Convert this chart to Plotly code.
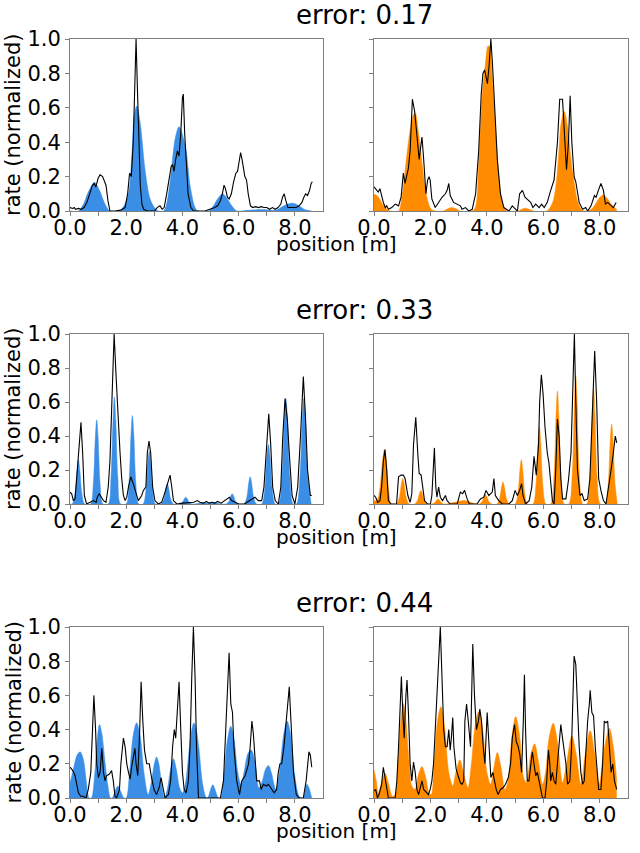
import plotly.graph_objects as go

W, H = 640, 853
FONT = "DejaVu Sans"
BLUE = "#3a8ee6"
ORANGE = "#ff8c00"
FRAME = "#808080"

titles = ["error: 0.17", "error: 0.33", "error: 0.44"]
x_tick_vals = [0, 1, 2, 3, 4, 5, 6, 7, 8]
x_tick_text = ["0.0", "", "2.0", "", "4.0", "", "6.0", "", "8.0"]
y_tick_vals = [0, 0.2, 0.4, 0.6, 0.8, 1.0]
y_tick_text = ["0.0", "0.2", "0.4", "0.6", "0.8", "1.0"]
x_label = "position [m]"
y_label = "rate (normalized)"

# ---------------- row 1, left (blue) ----------------
a_fill_x = [0.0, 0.3, 0.48, 0.65, 0.87, 1.05, 1.22, 1.42, 1.75, 1.9, 2.08, 2.2, 2.28, 2.37, 2.49, 2.67, 2.85, 3.03, 3.15,
            3.33, 3.42, 3.56, 3.74, 3.88, 4.1, 4.28, 4.45, 4.55, 4.93, 5.1, 5.27, 5.43, 5.6, 5.78, 5.94,
            6.3, 6.8, 7.2, 7.35, 7.5, 7.7, 7.94, 8.15, 8.35, 8.6]
a_fill_y = [0.0, 0.0, 0.04, 0.11, 0.167, 0.12, 0.05, 0.0, 0.0, 0.025, 0.1, 0.32, 0.55, 0.61, 0.52, 0.24, 0.07, 0.015, 0.0,
            0.0, 0.03, 0.17, 0.42, 0.49, 0.38, 0.14, 0.02, 0.0, 0.0, 0.03, 0.075, 0.1, 0.07, 0.025, 0.0,
            0.004, 0.008, 0.004, 0.006, 0.02, 0.038, 0.045, 0.03, 0.008, 0.0]
a_line = [(0, 0.02), (0.1, 0.015), (0.15, 0.02), (0.2, 0.01), (0.3, 0.015), (0.4, 0.01), (0.5, 0.02), (0.6, 0.05),
          (0.7, 0.1), (0.8, 0.15), (0.86, 0.16), (0.92, 0.14), (1.0, 0.19), (1.07, 0.21), (1.16, 0.2), (1.22, 0.17),
          (1.28, 0.15), (1.35, 0.06), (1.42, 0.0), (1.6, 0.0), (1.8, 0.005), (1.96, 0.02), (2.05, 0.1), (2.12, 0.22),
          (2.18, 0.2), (2.25, 0.4), (2.3, 0.75), (2.35, 1.0), (2.4, 0.7), (2.45, 0.35), (2.5, 0.15), (2.56, 0.04),
          (2.62, 0.01), (2.75, 0.0), (3.0, 0.0), (3.1, 0.02), (3.2, 0.03), (3.28, 0.01), (3.35, 0.02), (3.44, 0.1),
          (3.52, 0.18), (3.6, 0.26), (3.65, 0.27), (3.7, 0.23), (3.76, 0.3), (3.82, 0.35), (3.88, 0.32), (3.94, 0.45),
          (4.0, 0.66), (4.03, 0.68), (4.08, 0.45), (4.14, 0.25), (4.2, 0.1), (4.3, 0.02), (4.4, 0.0), (4.8, 0.0),
          (5.0, 0.01), (5.15, 0.02), (5.25, 0.03), (5.35, 0.06), (5.42, 0.1), (5.48, 0.15), (5.53, 0.13), (5.6, 0.08),
          (5.66, 0.07), (5.74, 0.1), (5.82, 0.17), (5.9, 0.22), (5.96, 0.23), (6.02, 0.28), (6.07, 0.34), (6.12, 0.3),
          (6.17, 0.24), (6.22, 0.2), (6.28, 0.18), (6.34, 0.1), (6.42, 0.03), (6.5, 0.02), (6.6, 0.025), (6.7, 0.02),
          (6.8, 0.025), (6.9, 0.02), (7.0, 0.02), (7.1, 0.01), (7.2, 0.02), (7.3, 0.01), (7.4, 0.02), (7.5, 0.04),
          (7.56, 0.08), (7.62, 0.1), (7.68, 0.06), (7.75, 0.02), (7.85, 0.02), (7.95, 0.02), (8.05, 0.02), (8.15, 0.03),
          (8.25, 0.05), (8.32, 0.08), (8.38, 0.1), (8.45, 0.09), (8.52, 0.12), (8.58, 0.16), (8.62, 0.17)]

# ---------------- row 1, right (orange) ----------------
b_fill_x = [0.0, 0.1, 0.2, 0.3, 0.45, 0.57, 0.87, 0.93, 1.04, 1.16, 1.28, 1.4, 1.46, 1.58, 1.7, 1.81, 1.93, 2.05,
            2.45, 2.6, 2.76, 2.92, 3.05, 3.48, 3.6, 3.71, 3.83, 3.95, 4.04, 4.1, 4.19, 4.31, 4.42, 4.54, 4.66, 4.75,
            5.1, 5.25, 5.37, 5.5, 5.65, 6.12, 6.32, 6.44, 6.54, 6.63, 6.74, 6.86, 6.98, 7.1, 7.21, 7.33, 7.45,
            7.7, 7.85, 7.98, 8.13, 8.28, 8.42, 8.6]
b_fill_y = [0.097, 0.09, 0.07, 0.04, 0.01, 0.0, 0.0, 0.025, 0.14, 0.32, 0.47, 0.56, 0.57, 0.45, 0.28, 0.14, 0.045, 0.006,
            0.0, 0.012, 0.02, 0.012, 0.0, 0.0, 0.025, 0.28, 0.66, 0.86, 0.96, 0.95, 0.78, 0.47, 0.2, 0.06, 0.006, 0.0,
            0.0, 0.012, 0.016, 0.01, 0.0, 0.0, 0.045, 0.14, 0.32, 0.51, 0.58, 0.49, 0.3, 0.16, 0.06, 0.015, 0.0,
            0.01, 0.04, 0.075, 0.093, 0.07, 0.035, 0.01]
b_line = [(0, 0.14), (0.05, 0.13), (0.1, 0.12), (0.15, 0.11), (0.21, 0.13), (0.27, 0.08), (0.33, 0.05), (0.4, 0.02),
          (0.45, 0.03), (0.51, 0.01), (0.63, 0.02), (0.75, 0.04), (0.87, 0.03), (0.96, 0.08), (1.04, 0.22), (1.1, 0.16),
          (1.16, 0.2), (1.22, 0.25), (1.28, 0.35), (1.36, 0.65), (1.44, 0.58), (1.52, 0.45), (1.6, 0.3), (1.66, 0.38),
          (1.7, 0.43), (1.76, 0.3), (1.84, 0.1), (1.9, 0.18), (1.95, 0.2), (1.99, 0.18), (2.05, 0.07), (2.17, 0.02),
          (2.29, 0.05), (2.41, 0.08), (2.53, 0.1), (2.59, 0.12), (2.65, 0.16), (2.7, 0.09), (2.82, 0.05), (2.94, 0.04),
          (3.06, 0.03), (3.12, 0.01), (3.24, 0.02), (3.36, 0.0), (3.48, 0.01), (3.6, 0.1), (3.71, 0.35), (3.8, 0.68),
          (3.86, 0.8), (3.92, 0.82), (3.98, 0.76), (4.02, 0.74), (4.08, 0.85), (4.14, 1.0), (4.2, 0.85), (4.25, 0.7),
          (4.31, 0.5), (4.37, 0.3), (4.48, 0.1), (4.6, 0.02), (4.78, 0.0), (4.9, 0.03), (5.02, 0.01), (5.08, 0.0),
          (5.16, 0.1), (5.26, 0.12), (5.35, 0.08), (5.43, 0.07), (5.55, 0.05), (5.63, 0.02), (5.73, 0.04), (5.85, 0.02),
          (5.94, 0.04), (6.03, 0.02), (6.14, 0.05), (6.26, 0.12), (6.38, 0.18), (6.5, 0.4), (6.58, 0.65), (6.68, 0.65),
          (6.74, 0.5), (6.82, 0.24), (6.89, 0.4), (6.95, 0.67), (7.01, 0.4), (7.09, 0.2), (7.15, 0.17), (7.27, 0.05),
          (7.39, 0.01), (7.5, 0.02), (7.57, 0.0), (7.69, 0.03), (7.81, 0.09), (7.87, 0.08), (7.95, 0.12), (8.04, 0.16),
          (8.13, 0.12), (8.2, 0.04), (8.28, 0.05), (8.4, 0.03), (8.48, 0.02), (8.58, 0.05)]

# ---------------- row 2, left (blue) ----------------
c_fill_x = [0.0, 0.08, 0.18, 0.25, 0.3, 0.35, 0.42, 0.52,
            0.73, 0.83, 0.9, 0.95, 1.0, 1.07, 1.17,
            1.36, 1.46, 1.53, 1.58, 1.63, 1.7, 1.8,
            2.0, 2.1, 2.17, 2.22, 2.27, 2.34, 2.44,
            2.6, 2.7, 2.77, 2.82, 2.87, 2.94, 3.04,
            3.24, 3.34, 3.41, 3.46, 3.51, 3.58, 3.68,
            3.9, 4.0, 4.07, 4.12, 4.17, 4.24, 4.34,
            4.6, 4.75, 4.9, 5.1, 5.25, 5.4,
            5.55, 5.65, 5.72, 5.77, 5.82, 5.89, 5.99,
            6.19, 6.29, 6.36, 6.41, 6.46, 6.53, 6.63,
            6.82, 6.93, 7.0, 7.06, 7.12, 7.19, 7.3,
            7.42, 7.54, 7.62, 7.68, 7.74, 7.82, 7.94,
            8.06, 8.18, 8.26, 8.32, 8.38, 8.46, 8.58]
c_fill_y = [0.0, 0.0, 0.065, 0.2, 0.26, 0.2, 0.065, 0.0,
            0.0, 0.12, 0.39, 0.495, 0.39, 0.12, 0.0,
            0.0, 0.16, 0.49, 0.63, 0.49, 0.16, 0.0,
            0.0, 0.13, 0.41, 0.52, 0.41, 0.13, 0.0,
            0.0, 0.08, 0.24, 0.31, 0.24, 0.08, 0.0,
            0.0, 0.03, 0.094, 0.12, 0.094, 0.03, 0.0,
            0.0, 0.01, 0.031, 0.04, 0.031, 0.01, 0.0,
            0.004, 0.008, 0.004, 0.01, 0.004, 0.0,
            0.0, 0.015, 0.047, 0.06, 0.047, 0.015, 0.0,
            0.0, 0.04, 0.125, 0.16, 0.125, 0.04, 0.0,
            0.0, 0.09, 0.27, 0.35, 0.27, 0.09, 0.0,
            0.0, 0.16, 0.48, 0.62, 0.48, 0.16, 0.0,
            0.0, 0.16, 0.48, 0.62, 0.48, 0.16, 0.0]
c_line = [(0, 0.07), (0.06, 0.06), (0.12, 0.02), (0.18, 0.03), (0.26, 0.2), (0.33, 0.38), (0.39, 0.48), (0.45, 0.3),
          (0.51, 0.05), (0.59, 0.0), (0.71, 0.01), (0.83, 0.02), (0.93, 0.01), (0.97, 0.04), (1.04, 0.06), (1.13, 0.04),
          (1.19, 0.02), (1.28, 0.01), (1.36, 0.1), (1.42, 0.25), (1.48, 0.6), (1.57, 1.0), (1.64, 0.75), (1.72, 0.45),
          (1.78, 0.3), (1.84, 0.15), (1.9, 0.05), (1.96, 0.02), (2.02, 0.04), (2.08, 0.1), (2.16, 0.16), (2.25, 0.12),
          (2.35, 0.06), (2.43, 0.02), (2.55, 0.05), (2.61, 0.08), (2.7, 0.1), (2.75, 0.3), (2.81, 0.37), (2.87, 0.3),
          (2.94, 0.1), (3.02, 0.02), (3.14, 0.0), (3.26, 0.01), (3.38, 0.07), (3.5, 0.13), (3.56, 0.17), (3.62, 0.1),
          (3.68, 0.02), (3.8, 0.0), (4.0, 0.005), (4.4, 0.01), (4.53, 0.02), (4.62, 0.01), (4.75, 0.005), (4.85, 0.015),
          (4.95, 0.005), (5.05, 0.01), (5.15, 0.005), (5.25, 0.015), (5.38, 0.005), (5.5, 0.02), (5.58, 0.03),
          (5.67, 0.04), (5.75, 0.02), (5.87, 0.01), (6.0, 0.0), (6.2, 0.0), (6.41, 0.02), (6.58, 0.04), (6.7, 0.02),
          (6.82, 0.02), (6.9, 0.1), (6.99, 0.3), (7.07, 0.53), (7.14, 0.35), (7.21, 0.1), (7.3, 0.02), (7.41, 0.0),
          (7.5, 0.1), (7.57, 0.4), (7.65, 0.62), (7.73, 0.5), (7.8, 0.3), (7.9, 0.05), (8.0, 0.0), (8.1, 0.1),
          (8.2, 0.4), (8.3, 0.75), (8.38, 0.5), (8.45, 0.2), (8.55, 0.05), (8.6, 0.05)]

# ---------------- row 2, right (orange) ----------------
d_fill_x = [0.0, 0.1, 0.2, 0.3, 0.37, 0.44, 0.52, 0.62,
            0.8, 0.9, 0.97, 1.02, 1.07, 1.14, 1.24,
            1.44, 1.54, 1.61, 1.66, 1.71, 1.78, 1.88,
            2.05, 2.15, 2.22, 2.27, 2.32, 2.39, 2.49,
            2.7, 3.0, 3.2, 3.4, 3.6,
            3.73, 3.83, 3.9, 3.95, 4.0, 4.07, 4.17,
            4.35, 4.45, 4.52, 4.57, 4.62, 4.69, 4.79,
            5.0, 5.1, 5.17, 5.22, 5.27, 5.34, 5.44,
            5.63, 5.74, 5.81, 5.86, 5.91, 5.98, 6.09,
            6.26, 6.38, 6.45, 6.5, 6.55, 6.62, 6.74,
            6.9, 7.03, 7.1, 7.15, 7.2, 7.27, 7.4,
            7.54, 7.66, 7.73, 7.78, 7.83, 7.9, 8.02,
            8.2, 8.3, 8.37, 8.42, 8.47, 8.54, 8.62]
d_fill_y = [0.02, 0.02, 0.08, 0.25, 0.32, 0.25, 0.08, 0.0,
            0.0, 0.04, 0.117, 0.15, 0.117, 0.04, 0.0,
            0.0, 0.02, 0.062, 0.08, 0.062, 0.02, 0.0,
            0.0, 0.008, 0.023, 0.03, 0.023, 0.008, 0.0,
            0.005, 0.015, 0.02, 0.012, 0.0,
            0.0, 0.014, 0.043, 0.055, 0.043, 0.014, 0.0,
            0.0, 0.033, 0.1, 0.13, 0.1, 0.033, 0.0,
            0.0, 0.065, 0.2, 0.26, 0.2, 0.065, 0.0,
            0.0, 0.115, 0.355, 0.456, 0.355, 0.115, 0.0,
            0.0, 0.17, 0.52, 0.665, 0.52, 0.17, 0.0,
            0.0, 0.19, 0.59, 0.755, 0.59, 0.19, 0.0,
            0.0, 0.17, 0.53, 0.677, 0.53, 0.17, 0.0,
            0.0, 0.12, 0.37, 0.47, 0.37, 0.12, 0.0]
d_line = [(0, 0.05), (0.06, 0.04), (0.13, 0.01), (0.21, 0.02), (0.27, 0.1), (0.33, 0.25), (0.39, 0.32), (0.45, 0.2),
          (0.51, 0.02), (0.6, 0.0), (0.8, 0.0), (0.87, 0.16), (0.96, 0.17), (1.04, 0.17), (1.1, 0.15), (1.2, 0.05),
          (1.28, 0.01), (1.34, 0.06), (1.4, 0.35), (1.48, 0.51), (1.55, 0.3), (1.6, 0.18), (1.67, 0.17), (1.72, 0.1),
          (1.79, 0.02), (1.9, 0.0), (2.0, 0.0), (2.05, 0.05), (2.14, 0.33), (2.19, 0.1), (2.23, 0.04), (2.29, 0.1),
          (2.35, 0.04), (2.43, 0.02), (2.53, 0.05), (2.59, 0.02), (2.7, 0.0), (2.95, 0.0), (3.06, 0.07), (3.14, 0.06),
          (3.21, 0.08), (3.3, 0.03), (3.38, 0.0), (3.65, 0.0), (3.77, 0.03), (3.89, 0.04), (3.97, 0.08), (4.07, 0.05),
          (4.19, 0.07), (4.25, 0.15), (4.3, 0.05), (4.42, 0.02), (4.55, 0.0), (4.78, 0.0), (4.9, 0.02), (5.0, 0.08),
          (5.08, 0.05), (5.16, 0.08), (5.23, 0.12), (5.28, 0.05), (5.37, 0.0), (5.5, 0.02), (5.59, 0.1), (5.67, 0.28),
          (5.75, 0.17), (5.83, 0.35), (5.87, 0.6), (5.93, 0.76), (5.99, 0.65), (6.06, 0.45), (6.14, 0.3), (6.2, 0.24),
          (6.26, 0.1), (6.32, 0.02), (6.38, 0.0), (6.44, 0.2), (6.5, 0.5), (6.56, 0.4), (6.62, 0.15), (6.68, 0.03),
          (6.8, 0.03), (6.89, 0.14), (6.98, 0.3), (7.03, 0.6), (7.1, 1.0), (7.15, 0.6), (7.21, 0.2), (7.3, 0.05),
          (7.37, 0.06), (7.45, 0.02), (7.57, 0.03), (7.65, 0.15), (7.75, 0.55), (7.82, 0.9), (7.89, 0.6), (7.96, 0.15),
          (8.04, 0.08), (8.13, 0.02), (8.22, 0.0), (8.32, 0.1), (8.4, 0.2), (8.48, 0.3), (8.55, 0.4), (8.6, 0.36)]

# ---------------- row 3, left (blue) ----------------
e_fill_x = [0.0, 0.12, 0.25, 0.36, 0.47, 0.58, 0.68,
            0.76, 0.88, 0.97, 1.05, 1.13, 1.24, 1.35, 1.44,
            1.5, 1.6, 1.7, 1.8, 1.92,
            2.0, 2.12, 2.25, 2.37, 2.5, 2.63, 2.78,
            2.9, 3.0, 3.08, 3.16, 3.26, 3.36,
            3.46, 3.58, 3.68, 3.78, 3.9, 4.0,
            4.1, 4.25, 4.33, 4.41, 4.49, 4.58, 4.72, 4.85,
            4.9, 5.0, 5.08, 5.16, 5.28,
            5.36, 5.48, 5.6, 5.72, 5.84, 5.96, 6.08,
            6.2, 6.33, 6.45, 6.57, 6.72,
            6.84, 6.96, 7.06, 7.16, 7.32,
            7.45, 7.6, 7.72, 7.84, 7.98, 8.15, 8.25,
            8.3, 8.38, 8.43, 8.5, 8.6]
e_fill_y = [0.087, 0.17, 0.25, 0.27, 0.23, 0.1, 0.0,
            0.0, 0.14, 0.35, 0.43, 0.38, 0.22, 0.07, 0.0,
            0.0, 0.04, 0.07, 0.04, 0.0,
            0.0, 0.15, 0.37, 0.44, 0.36, 0.15, 0.02,
            0.1, 0.2, 0.24, 0.2, 0.08, 0.0,
            0.05, 0.17, 0.23, 0.17, 0.06, 0.03,
            0.08, 0.3, 0.4, 0.44, 0.4, 0.3, 0.08, 0.0,
            0.0, 0.05, 0.078, 0.05, 0.0,
            0.0, 0.14, 0.34, 0.42, 0.34, 0.16, 0.08,
            0.16, 0.26, 0.28, 0.22, 0.06,
            0.1, 0.17, 0.19, 0.15, 0.05,
            0.15, 0.37, 0.45, 0.38, 0.15, 0.01, 0.0,
            0.0, 0.06, 0.08, 0.06, 0.0]
e_line = [(0, 0.18), (0.1, 0.16), (0.18, 0.13), (0.24, 0.08), (0.3, 0.03), (0.38, 0.01), (0.47, 0.01), (0.57, 0.0),
          (0.65, 0.05), (0.74, 0.15), (0.79, 0.4), (0.85, 0.6), (0.91, 0.4), (0.95, 0.2), (1.01, 0.12), (1.07, 0.15),
          (1.13, 0.29), (1.19, 0.15), (1.25, 0.1), (1.3, 0.13), (1.4, 0.14), (1.48, 0.16), (1.54, 0.1), (1.6, 0.01),
          (1.66, 0.0), (1.76, 0.05), (1.81, 0.2), (1.9, 0.35), (1.96, 0.3), (2.02, 0.2), (2.08, 0.15), (2.14, 0.11),
          (2.19, 0.18), (2.25, 0.25), (2.31, 0.29), (2.35, 0.2), (2.41, 0.13), (2.47, 0.35), (2.53, 0.68), (2.59, 0.45),
          (2.65, 0.28), (2.73, 0.2), (2.82, 0.2), (2.9, 0.12), (2.99, 0.05), (3.08, 0.02), (3.17, 0.06), (3.24, 0.12),
          (3.32, 0.05), (3.38, 0.0), (3.5, 0.02), (3.58, 0.1), (3.65, 0.3), (3.71, 0.4), (3.76, 0.35), (3.82, 0.55),
          (3.88, 0.68), (3.94, 0.4), (4.0, 0.15), (4.06, 0.05), (4.13, 0.03), (4.21, 0.1), (4.27, 0.3), (4.33, 0.7),
          (4.39, 1.0), (4.45, 0.7), (4.5, 0.3), (4.57, 0.0), (5.35, 0.0), (5.46, 0.1), (5.54, 0.4), (5.6, 0.7),
          (5.66, 0.85), (5.72, 0.55), (5.78, 0.5), (5.83, 0.3), (5.93, 0.1), (6.03, 0.02), (6.11, 0.1), (6.23, 0.13),
          (6.35, 0.2), (6.41, 0.3), (6.47, 0.45), (6.52, 0.38), (6.58, 0.25), (6.64, 0.1), (6.74, 0.1), (6.8, 0.05),
          (6.88, 0.08), (6.98, 0.07), (7.06, 0.08), (7.18, 0.05), (7.26, 0.03), (7.35, 0.05), (7.41, 0.15),
          (7.47, 0.2), (7.53, 0.2), (7.61, 0.3), (7.71, 0.5), (7.8, 0.65), (7.86, 0.45), (7.95, 0.15), (8.05, 0.02),
          (8.15, 0.0), (8.3, 0.0), (8.4, 0.1), (8.5, 0.27), (8.55, 0.25), (8.6, 0.18)]

# ---------------- row 3, right (orange) ----------------
f_fill_x = [0.0, 0.08, 0.15, 0.25, 0.39, 0.52, 0.65, 0.75, 0.85, 0.95, 1.04, 1.13, 1.25, 1.34, 1.45, 1.58, 1.7,
            1.82, 1.95, 2.03, 2.13, 2.25, 2.37, 2.5, 2.65, 2.79, 2.9, 3.04, 3.18, 3.33, 3.45, 3.58, 3.71, 3.85,
            4.0, 4.13, 4.25, 4.37, 4.5, 4.64, 4.75, 4.88, 5.02, 5.16, 5.3, 5.4, 5.55, 5.69, 5.82, 5.97, 6.08,
            6.2, 6.35, 6.5, 6.68, 6.82, 7.01, 7.16, 7.33, 7.48, 7.66, 7.82, 7.98, 8.15, 8.34, 8.48, 8.6]
f_fill_y = [0.165, 0.1, 0.03, 0.08, 0.146, 0.08, 0.01, 0.02, 0.2, 0.45, 0.553, 0.45, 0.2, 0.07, 0.05, 0.14, 0.184,
            0.13, 0.03, 0.02, 0.2, 0.45, 0.534, 0.42, 0.15, 0.07, 0.15, 0.223, 0.14, 0.06, 0.2, 0.42, 0.505, 0.4,
            0.15, 0.08, 0.18, 0.266, 0.18, 0.05, 0.1, 0.35, 0.476, 0.36, 0.12, 0.09, 0.25, 0.317, 0.22, 0.08, 0.15,
            0.35, 0.437, 0.33, 0.09, 0.2, 0.363, 0.26, 0.08, 0.25, 0.394, 0.26, 0.08, 0.28, 0.408, 0.3, 0.1]
f_line = [(0, 0.04), (0.06, 0.05), (0.12, 0.0), (0.18, 0.02), (0.27, 0.08), (0.33, 0.18), (0.39, 0.12), (0.45, 0.05),
          (0.51, 0.0), (0.75, 0.0), (0.81, 0.1), (0.87, 0.3), (0.93, 0.55), (0.97, 0.71), (1.02, 0.5), (1.07, 0.35),
          (1.13, 0.6), (1.17, 0.69), (1.22, 0.5), (1.28, 0.2), (1.34, 0.1), (1.4, 0.21), (1.46, 0.15), (1.52, 0.05),
          (1.58, 0.02), (1.64, 0.06), (1.7, 0.1), (1.76, 0.05), (1.81, 0.04), (1.93, 0.02), (1.99, 0.05), (2.05, 0.1),
          (2.11, 0.2), (2.17, 0.4), (2.23, 0.6), (2.29, 0.8), (2.35, 1.0), (2.41, 0.7), (2.47, 0.4), (2.53, 0.3),
          (2.59, 0.3), (2.65, 0.4), (2.7, 0.28), (2.74, 0.35), (2.79, 0.47), (2.83, 0.3), (2.91, 0.17), (2.98, 0.13),
          (3.06, 0.09), (3.12, 0.08), (3.18, 0.1), (3.22, 0.45), (3.28, 0.55), (3.34, 0.45), (3.42, 0.3), (3.5, 0.9),
          (3.56, 0.6), (3.63, 0.4), (3.7, 0.45), (3.75, 0.52), (3.81, 0.45), (3.87, 0.3), (3.93, 0.2), (4.01, 0.5),
          (4.07, 0.3), (4.14, 0.12), (4.21, 0.15), (4.27, 0.1), (4.33, 0.05), (4.4, 0.02), (4.48, 0.05), (4.57, 0.06),
          (4.66, 0.08), (4.76, 0.12), (4.84, 0.2), (4.9, 0.35), (4.98, 0.43), (5.04, 0.33), (5.11, 0.3), (5.17, 0.25),
          (5.23, 0.15), (5.29, 0.45), (5.33, 0.72), (5.37, 0.4), (5.43, 0.1), (5.49, 0.1), (5.55, 0.2), (5.61, 0.27),
          (5.67, 0.2), (5.73, 0.13), (5.79, 0.15), (5.85, 0.1), (5.91, 0.04), (5.97, 0.0), (6.06, 0.0), (6.12, 0.1),
          (6.18, 0.28), (6.23, 0.2), (6.26, 0.1), (6.32, 0.15), (6.38, 0.1), (6.44, 0.08), (6.5, 0.2), (6.56, 0.3),
          (6.62, 0.43), (6.68, 0.35), (6.74, 0.28), (6.8, 0.2), (6.86, 0.08), (6.94, 0.1), (7.0, 0.3), (7.06, 0.6),
          (7.09, 0.83), (7.15, 0.78), (7.21, 0.5), (7.27, 0.3), (7.33, 0.15), (7.39, 0.08), (7.45, 0.1), (7.51, 0.3),
          (7.57, 0.45), (7.63, 0.55), (7.66, 0.63), (7.72, 0.5), (7.78, 0.48), (7.84, 0.3), (7.9, 0.15), (7.96, 0.05),
          (8.04, 0.05), (8.1, 0.2), (8.16, 0.45), (8.22, 0.44), (8.28, 0.45), (8.34, 0.3), (8.4, 0.15), (8.46, 0.2),
          (8.52, 0.1), (8.6, 0.05)]

panels = [
    (a_fill_x, a_fill_y, a_line, BLUE),
    (b_fill_x, b_fill_y, b_line, ORANGE),
    (c_fill_x, c_fill_y, c_line, BLUE),
    (d_fill_x, d_fill_y, d_line, ORANGE),
    (e_fill_x, e_fill_y, e_line, BLUE),
    (f_fill_x, f_fill_y, f_line, ORANGE),
]

# pixel geometry of the plot areas (window pixels)
col_px = [(70, 323), (374, 628)]
row_px = [(39, 211), (334, 504), (627, 798)]


def px(v):
    return v / W


def py(v):
    return 1 - v / H


fig = go.Figure()
for i, (fx, fy, line, color) in enumerate(panels):
    r, c = divmod(i, 2)
    n = i + 1
    suf = "" if n == 1 else str(n)
    fig.add_trace(go.Scatter(
        x=fx, y=fy, mode="lines", fill="tozeroy", fillcolor=color,
        line=dict(color=color, width=0.5, shape="spline", smoothing=0.9),
        xaxis="x" + suf, yaxis="y" + suf, hoverinfo="skip", showlegend=False))
    lx = [p[0] for p in line]
    ly = [p[1] for p in line]
    fig.add_trace(go.Scatter(
        x=lx, y=ly, mode="lines", line=dict(color="black", width=1.1),
        xaxis="x" + suf, yaxis="y" + suf, hoverinfo="skip", showlegend=False))
    x0, x1 = col_px[c]
    y0, y1 = row_px[r]
    fig.layout["xaxis" + suf] = dict(
        domain=[px(x0), px(x1)], anchor="y" + suf, range=[0, 9.0], automargin=False,
        tickvals=x_tick_vals, ticktext=x_tick_text, ticks="outside", ticklen=4,
        ticklabelstandoff=-6,
        tickcolor=FRAME, tickwidth=1, showline=True, linecolor=FRAME, linewidth=1,
        mirror=True, showgrid=False, zeroline=False,
        tickfont=dict(family=FONT, size=21, color="black"))
    fig.layout["yaxis" + suf] = dict(
        domain=[py(y1), py(y0)], anchor="x" + suf, range=[0, 1.0], automargin=False,
        tickvals=y_tick_vals, ticktext=y_tick_text, ticks="outside", ticklen=4,
        tickcolor=FRAME, tickwidth=1, showline=True, linecolor=FRAME, linewidth=1,
        mirror=True, showgrid=False, zeroline=False, showticklabels=(c == 0),
        tickfont=dict(family=FONT, size=21, color="black"))

annotations = []
for r in range(3):
    y0, y1 = row_px[r]
    annotations.append(dict(text=titles[r], x=px(364), y=py(y0 - 24), xref="paper", yref="paper",
                            xanchor="center", yanchor="middle", showarrow=False,
                            font=dict(family=FONT, size=26, color="black")))
    annotations.append(dict(text=x_label, x=px(336), y=py(y1 + 33), xref="paper", yref="paper",
                            xanchor="center", yanchor="middle", showarrow=False,
                            font=dict(family=FONT, size=20, color="black")))
    annotations.append(dict(text=y_label, x=px(13), y=py((y0 + y1) / 2), xref="paper", yref="paper",
                            xanchor="center", yanchor="middle", showarrow=False, textangle=-90,
                            font=dict(family=FONT, size=21, color="black")))

fig.update_layout(
    width=W, height=H, margin=dict(l=0, r=0, t=0, b=0, autoexpand=False),
    paper_bgcolor="white", plot_bgcolor="white",
    annotations=annotations, showlegend=False,
)

fig.write_html("out.html", config={"displayModeBar": False},
               post_script="document.body.style.margin='0';")
